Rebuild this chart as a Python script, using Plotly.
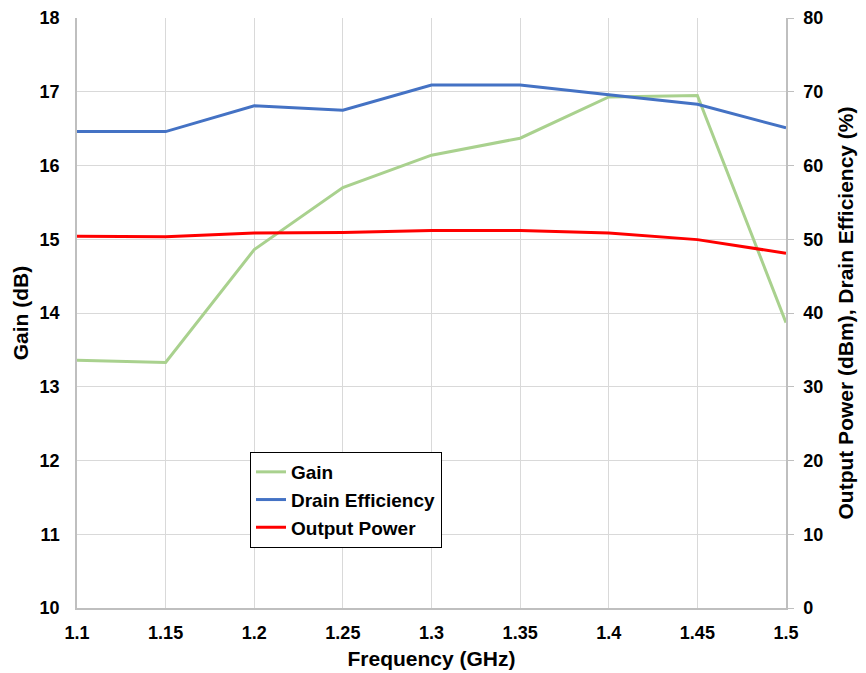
import plotly.graph_objects as go

freq = [1.1, 1.15, 1.2, 1.25, 1.3, 1.35, 1.4, 1.45, 1.5]
gain = [13.36, 13.33, 14.86, 15.70, 16.14, 16.37, 16.93, 16.95, 13.87]
drain_eff = [64.6, 64.6, 68.1, 67.5, 70.9, 70.9, 69.6, 68.3, 65.1]
out_power = [50.4, 50.35, 50.85, 50.9, 51.2, 51.2, 50.85, 49.95, 48.1]

x_ticks = [1.1, 1.15, 1.2, 1.25, 1.3, 1.35, 1.4, 1.45, 1.5]
x_tick_text = ["1.1", "1.15", "1.2", "1.25", "1.3", "1.35", "1.4", "1.45", "1.5"]

FONT = "Liberation Sans, Arial, sans-serif"

fig = go.Figure()
fig.add_trace(go.Scatter(x=freq, y=gain, mode="lines", name="Gain", legendgroup="a",
                         line=dict(color="#A9D18E", width=3), yaxis="y"))
fig.add_trace(go.Scatter(x=freq, y=drain_eff, mode="lines", name="Drain Efficiency", legendgroup="b",
                         line=dict(color="#4472C4", width=3), yaxis="y2"))
fig.add_trace(go.Scatter(x=freq, y=out_power, mode="lines", name="Output Power", legendgroup="c",
                         line=dict(color="#FF0000", width=3), yaxis="y2"))

tickfont = dict(family=FONT, size=18, color="#000000", weight="bold")
titlefont = dict(family=FONT, size=21, color="#000000", weight="bold")

# page is offset by the browser's 8px body margin; figure is sized to fit the viewport
W, H = 858, 665
L, R, T, B = 69, 80, 10, 65
pw, ph = W - L - R, H - T - B

fig.update_layout(
    width=W, height=H,
    margin=dict(l=L, r=R, t=T, b=B, autoexpand=False),
    paper_bgcolor="white", plot_bgcolor="white",
    showlegend=True,
    legend=dict(x=(242 - L) / pw, y=(T + ph - 444) / ph, xanchor="left", yanchor="top",
                bordercolor="#000000", borderwidth=1, bgcolor="white",
                font=dict(family=FONT, size=19, color="#000000", weight="bold"),
                tracegroupgap=0, itemwidth=30),
    xaxis=dict(range=[1.1, 1.5], tickvals=x_ticks, ticktext=x_tick_text,
               showgrid=True, gridcolor="#D9D9D9", gridwidth=1,
               showline=True, linecolor="#BFBFBF", linewidth=1.5,
               zeroline=False, tickfont=tickfont, automargin=False,
               ticks="", ticklabelstandoff=8, ticklabeloverflow="allow",
               title=dict(text="Frequency (GHz)", font=titlefont, standoff=9)),
    yaxis=dict(range=[10, 18], dtick=1, showgrid=True, gridcolor="#D9D9D9", gridwidth=1,
               showline=True, linecolor="#BFBFBF", linewidth=1.5, zeroline=False,
               tickfont=tickfont, ticks="", ticklabelstandoff=12, automargin=False,
               ticklabeloverflow="allow",
               title=dict(text="Gain (dB)", font=titlefont, standoff=5)),
    yaxis2=dict(range=[0, 80], dtick=10, overlaying="y", side="right",
                showgrid=False, showline=True, linecolor="#BFBFBF", linewidth=1.5,
                zeroline=False, tickfont=tickfont, ticks="outside", ticklen=6,
                tickcolor="#BFBFBF", ticklabelstandoff=6, automargin=False,
                ticklabeloverflow="allow",
                title=dict(text="Output Power (dBm), Drain Efficiency (%)", font=titlefont, standoff=16)),
)

fig.write_html("out.html")
